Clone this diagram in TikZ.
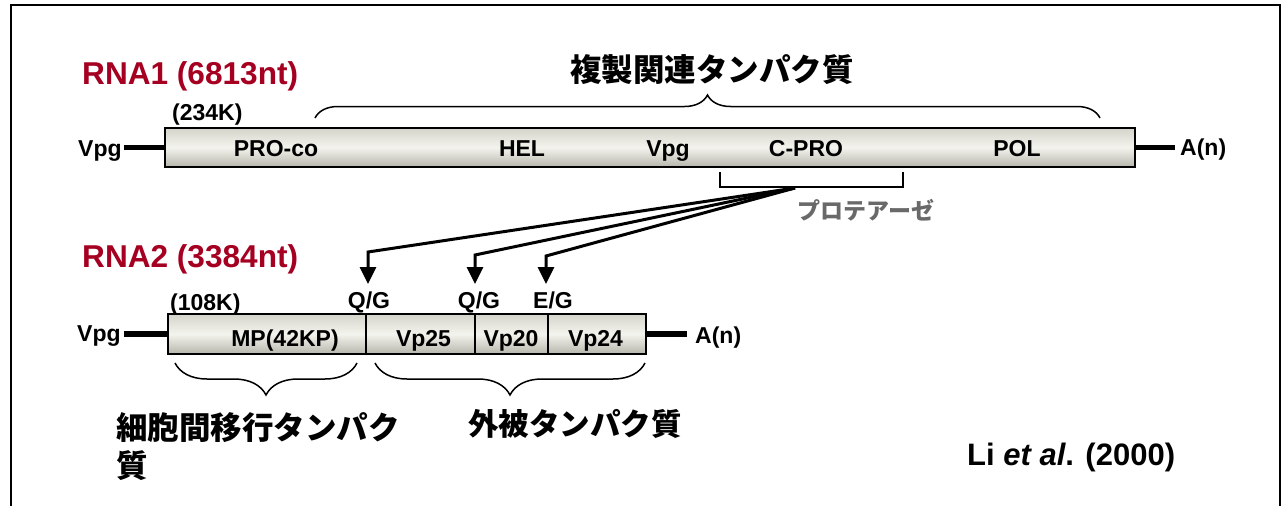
\documentclass[tikz,border=0pt]{standalone}
\usepackage{fontspec}
\setmainfont{Liberation Sans}
\newfontfamily\cjk{Noto Sans CJK JP}
\usetikzlibrary{arrows.meta,decorations.pathreplacing}
\definecolor{rnared}{RGB}{165,0,33}
\definecolor{boxtop}{RGB}{212,212,202}
\definecolor{boxmid}{RGB}{244,244,238}
\definecolor{boxbot}{RGB}{182,182,172}
\definecolor{protgray}{RGB}{105,105,105}
\begin{document}
\begin{tikzpicture}[x=1pt,y=-1pt,
  gbox/.style={draw=black, line width=2pt, top color=boxtop, bottom color=boxbot, middle color=boxmid, inner sep=0pt, outer sep=0pt, minimum height=#1},
  lab/.style={font=\fontsize{23}{27}\selectfont\bfseries, inner sep=0pt},
  title/.style={font=\fontsize{31.6}{36}\selectfont\bfseries, text=rnared, inner sep=0pt},
  jp/.style={font=\cjk\bfseries\fontsize{#1}{#1}\selectfont, inner sep=0pt},
  stem/.style={line width=5.5pt},
  arr/.style={line width=3pt, -{Triangle[width=16pt,length=17pt]}},
  bracebig/.style={decorate, decoration={brace, amplitude=#1}, line width=1.5pt},
]
\useasboundingbox (0,0) rectangle (1283,506);
\draw[line width=2pt] (11,506) -- (11,5) -- (1280,5) -- (1280,506);

% ---------- RNA1 ----------
\node[title, anchor=base west] (t1) at (82,84) {RNA1 (6813nt)};
\node[jp=31.5] (rep) at (712,70) {複製関連タンパク質};
\node[lab, anchor=base west] (k234) at (172,120) {(234K)};
\node[gbox=39pt, minimum width=970pt] (rna1) at (650,147.5) {};
\node[lab, anchor=base] (proco) at (276,156) {PRO-co};
\node[lab, anchor=base] (hel) at (522,156) {HEL};
\node[lab, anchor=base] (vpgin) at (668,156) {Vpg};
\node[lab, anchor=base] (cpro) at (806,156) {C-PRO};
\node[lab, anchor=base] (pol) at (1017,156) {POL};
\node[lab, anchor=base west] (vpg1) at (78,156) {Vpg};
\node[lab, anchor=base west] (an1) at (1180,155) {A(n)};
\draw[stem, shorten <=2pt] (vpg1.east |- rna1.west) -- (rna1.west);
\draw[stem, shorten >=5pt] (rna1.east) -- (an1.west |- rna1.east);

\coordinate (tl) at (315,118);
\coordinate (tr) at (1100,118);
\draw[bracebig=23pt] (tl) -- (tr);

% protease bracket
\coordinate (bl) at (720,172);
\coordinate (br) at (903,172);
\draw[line width=2pt] (bl) -- ++(0,15) -| (br);
\coordinate (src) at (795,188);
\node[jp=23, text=protgray] (prot) at (866,210) {プロテアーゼ};

% ---------- RNA2 ----------
\node[title, anchor=base west] (t2) at (82,267) {RNA2 (3384nt)};
\node[lab, anchor=base west] (k108) at (170,310) {(108K)};
\node[gbox=40pt, minimum width=198pt] (mp) at (267,334) {};
\node[gbox=40pt, minimum width=109pt] (vp25) at (420.5,334) {};
\node[gbox=40pt, minimum width=73pt] (vp20) at (511.5,334) {};
\node[gbox=40pt, minimum width=98pt] (vp24) at (597,334) {};
\node[lab, anchor=base] (mpl) at (285,346) {MP(42KP)};
\node[lab, anchor=base] (vp25l) at (423.5,346) {Vp25};
\node[lab, anchor=base] (vp20l) at (511,346) {Vp20};
\node[lab, anchor=base] (vp24l) at (595.5,346) {Vp24};
\node[lab, anchor=base west] (vpg2) at (77,341) {Vpg};
\node[lab, anchor=base west] (an2) at (695,343) {A(n)};
\draw[stem, shorten <=3pt] (vpg2.east |- mp.west) -- (mp.west);
\draw[stem, shorten >=8pt] (vp24.east) -- (an2.west |- vp24.east);

\node[lab, anchor=base] (qg1) at (369,308) {Q/G};
\node[lab, anchor=base] (qg2) at (479,308) {Q/G};
\node[lab, anchor=base] (eg) at (553,308) {E/G};

\coordinate (c1) at (368,252);
\coordinate (c2) at (475,255);
\coordinate (c3) at (546,256);
\coordinate (e1) at (368,284);
\coordinate (e2) at (475,284);
\coordinate (e3) at (546,284);
\draw[arr] (src) -- (c1) -- (e1);
\draw[arr] (src) -- (c2) -- (e2);
\draw[arr] (src) -- (c3) -- (e3);

% lower braces
\coordinate (bl1) at (175,363);
\coordinate (br1) at (357,363);
\coordinate (bl2) at (375,363);
\coordinate (br2) at (645,363);
\draw[bracebig=32pt] (br1) -- (bl1);
\draw[bracebig=32pt] (br2) -- (bl2);

\node[jp=31.5, anchor=west] (mv1) at (116,428) {細胞間移行タンパク};
\node[jp=31.5, anchor=west] (mv2) at (116,466) {質};
\node[jp=30.5, anchor=west] (coat) at (468,424) {外被タンパク質};

\node[font=\fontsize{31}{36}\selectfont\bfseries, anchor=base west, inner sep=0pt] (ref) at (967,465) {Li \textit{et al}. (2000)};
\end{tikzpicture}
\end{document}
